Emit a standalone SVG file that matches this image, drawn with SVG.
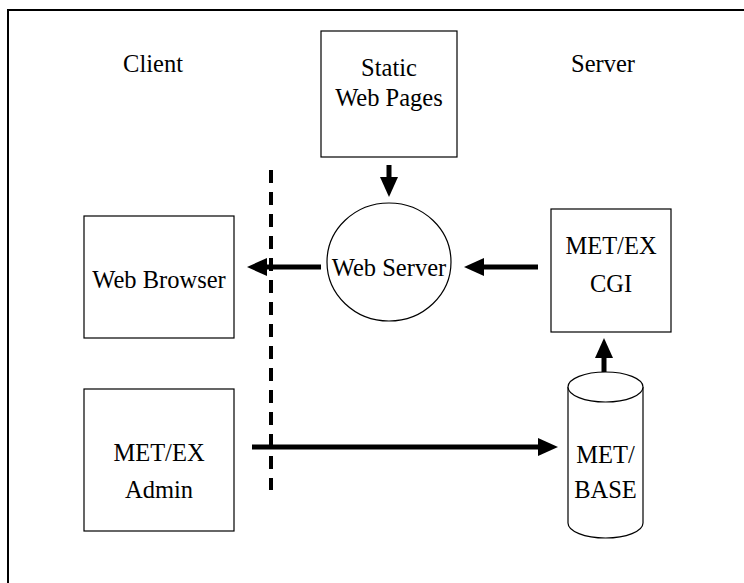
<svg xmlns="http://www.w3.org/2000/svg" width="744" height="583" viewBox="0 0 744 583">
<style>
.box{fill:#fff;stroke:#000;stroke-width:1.2}
.t{font-family:"Liberation Serif","Times New Roman",serif;font-size:24.5px;fill:#000;text-anchor:middle}
.arr{stroke:#000;stroke-width:5;fill:none}
</style>
<defs>
<marker id="ah" markerUnits="userSpaceOnUse" markerWidth="20" markerHeight="18" refX="1" refY="9" orient="auto" viewBox="0 0 20 18">
<path d="M0,0 L20,9 L0,18 z" fill="#000"/>
</marker>
</defs>
<rect x="0" y="0" width="744" height="583" fill="#fff"/>
<rect x="8" y="10" width="800" height="650" fill="none" stroke="#000" stroke-width="2"/>
<text class="t" x="153" y="72">Client</text>
<text class="t" x="603" y="72">Server</text>
<g id="static-web-pages">
<rect class="box" x="321" y="31" width="136" height="126"/>
<text class="t" x="389" y="76">Static</text>
<text class="t" x="389" y="106">Web Pages</text>
</g>
<g id="web-server">
<ellipse class="box" cx="389" cy="262" rx="62" ry="59"/>
<text class="t" x="389" y="276">Web Server</text>
</g>
<g id="web-browser">
<rect class="box" x="84" y="216" width="150" height="122"/>
<text class="t" x="159" y="288">Web Browser</text>
</g>
<g id="metex-cgi">
<rect class="box" x="551" y="209" width="120" height="123"/>
<text class="t" x="611" y="254">MET/EX</text>
<text class="t" x="611" y="292">CGI</text>
</g>
<g id="metex-admin">
<rect class="box" x="84" y="389" width="150" height="142"/>
<text class="t" x="159" y="461">MET/EX</text>
<text class="t" x="159" y="498">Admin</text>
</g>
<g id="metbase">
<path class="box" d="M568,387 L568,523 A37.5,15 0 0 0 643,523 L643,387"/>
<ellipse class="box" cx="605.5" cy="387" rx="37.5" ry="15"/>
<text class="t" x="605.5" y="463">MET/</text>
<text class="t" x="605.5" y="498">BASE</text>
</g>
<g id="connectors">
<line x1="271" y1="170" x2="271" y2="490" stroke="#000" stroke-width="4" stroke-dasharray="13 9"/>
<line class="arr" x1="389" y1="165" x2="389" y2="178" marker-end="url(#ah)"/>
<line class="arr" x1="321" y1="267" x2="266" y2="267" marker-end="url(#ah)"/>
<line class="arr" x1="538" y1="267" x2="483" y2="267" marker-end="url(#ah)"/>
<line class="arr" x1="252" y1="447" x2="539" y2="447" marker-end="url(#ah)"/>
<line class="arr" x1="604" y1="372" x2="604" y2="357" marker-end="url(#ah)"/>
</g>
</svg>
